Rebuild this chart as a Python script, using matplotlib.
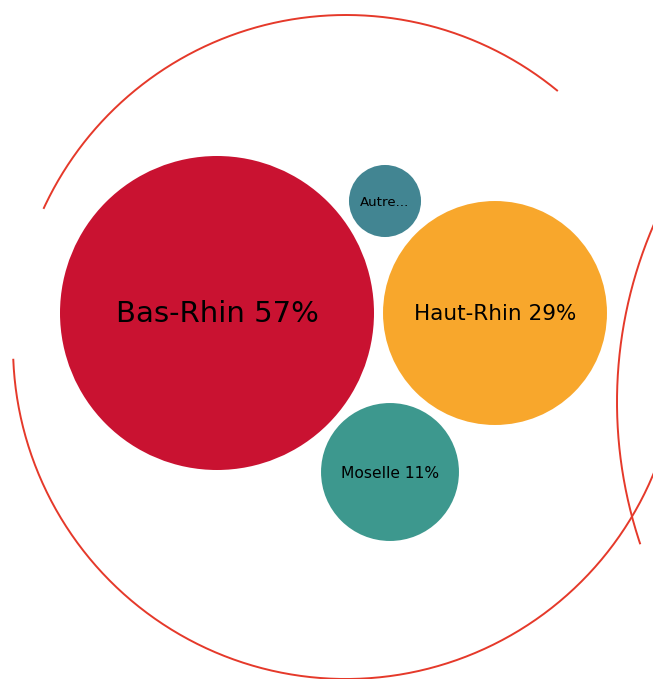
import numpy as np
import matplotlib
matplotlib.use("Agg")
import matplotlib.pyplot as plt
from matplotlib.patches import Circle

# Data
categories = ["Bas-Rhin", "Haut-Rhin", "Moselle", "Autre"]
values = [57, 29, 11, 3]
labels = ["Bas-Rhin 57%", "Haut-Rhin 29%", "Moselle 11%", "Autre..."]
colors = ["#c91231", "#f8a72c", "#3d988e", "#428592"]

# Layout (packed bubble positions, pixel coordinates)
centers = [(217, 313), (495, 313), (390, 472), (385, 201)]
max_radius = 157
font_sizes = [21, 15.5, 11.2, 9.6]

W, H = 653, 679
fig = plt.figure(figsize=(W / 100, H / 100), dpi=100)
ax = fig.add_axes([0, 0, 1, 1])
ax.set_xlim(0, W)
ax.set_ylim(H, 0)
ax.set_aspect("equal")
ax.axis("off")

line_col = "#e5392a"
def arc(cx, cy, r, a1, a2):
    t = np.radians(np.linspace(a1, a2, 400))
    ax.plot(cx + r * np.cos(t), cy - r * np.sin(t), color=line_col, lw=1.4,
            solid_capstyle="butt", zorder=1)

arc(346, 348, 333, 50.5, 155.3)
arc(346, 346, 333, 182.2, 352)
arc(1063, 402, 446, 150, 198.6)

vmax = max(values)
for (cx, cy), v, lab, c, fs in zip(centers, values, labels, colors, font_sizes):
    r = max_radius * np.sqrt(v / vmax)
    ax.add_patch(Circle((cx, cy), r, facecolor=c, edgecolor="none", zorder=2))
    ax.text(cx, cy + 1, lab, ha="center", va="center", fontsize=fs,
            family="DejaVu Sans", color="#000000", zorder=3)

fig.savefig("out.png", dpi=100, facecolor="white")
